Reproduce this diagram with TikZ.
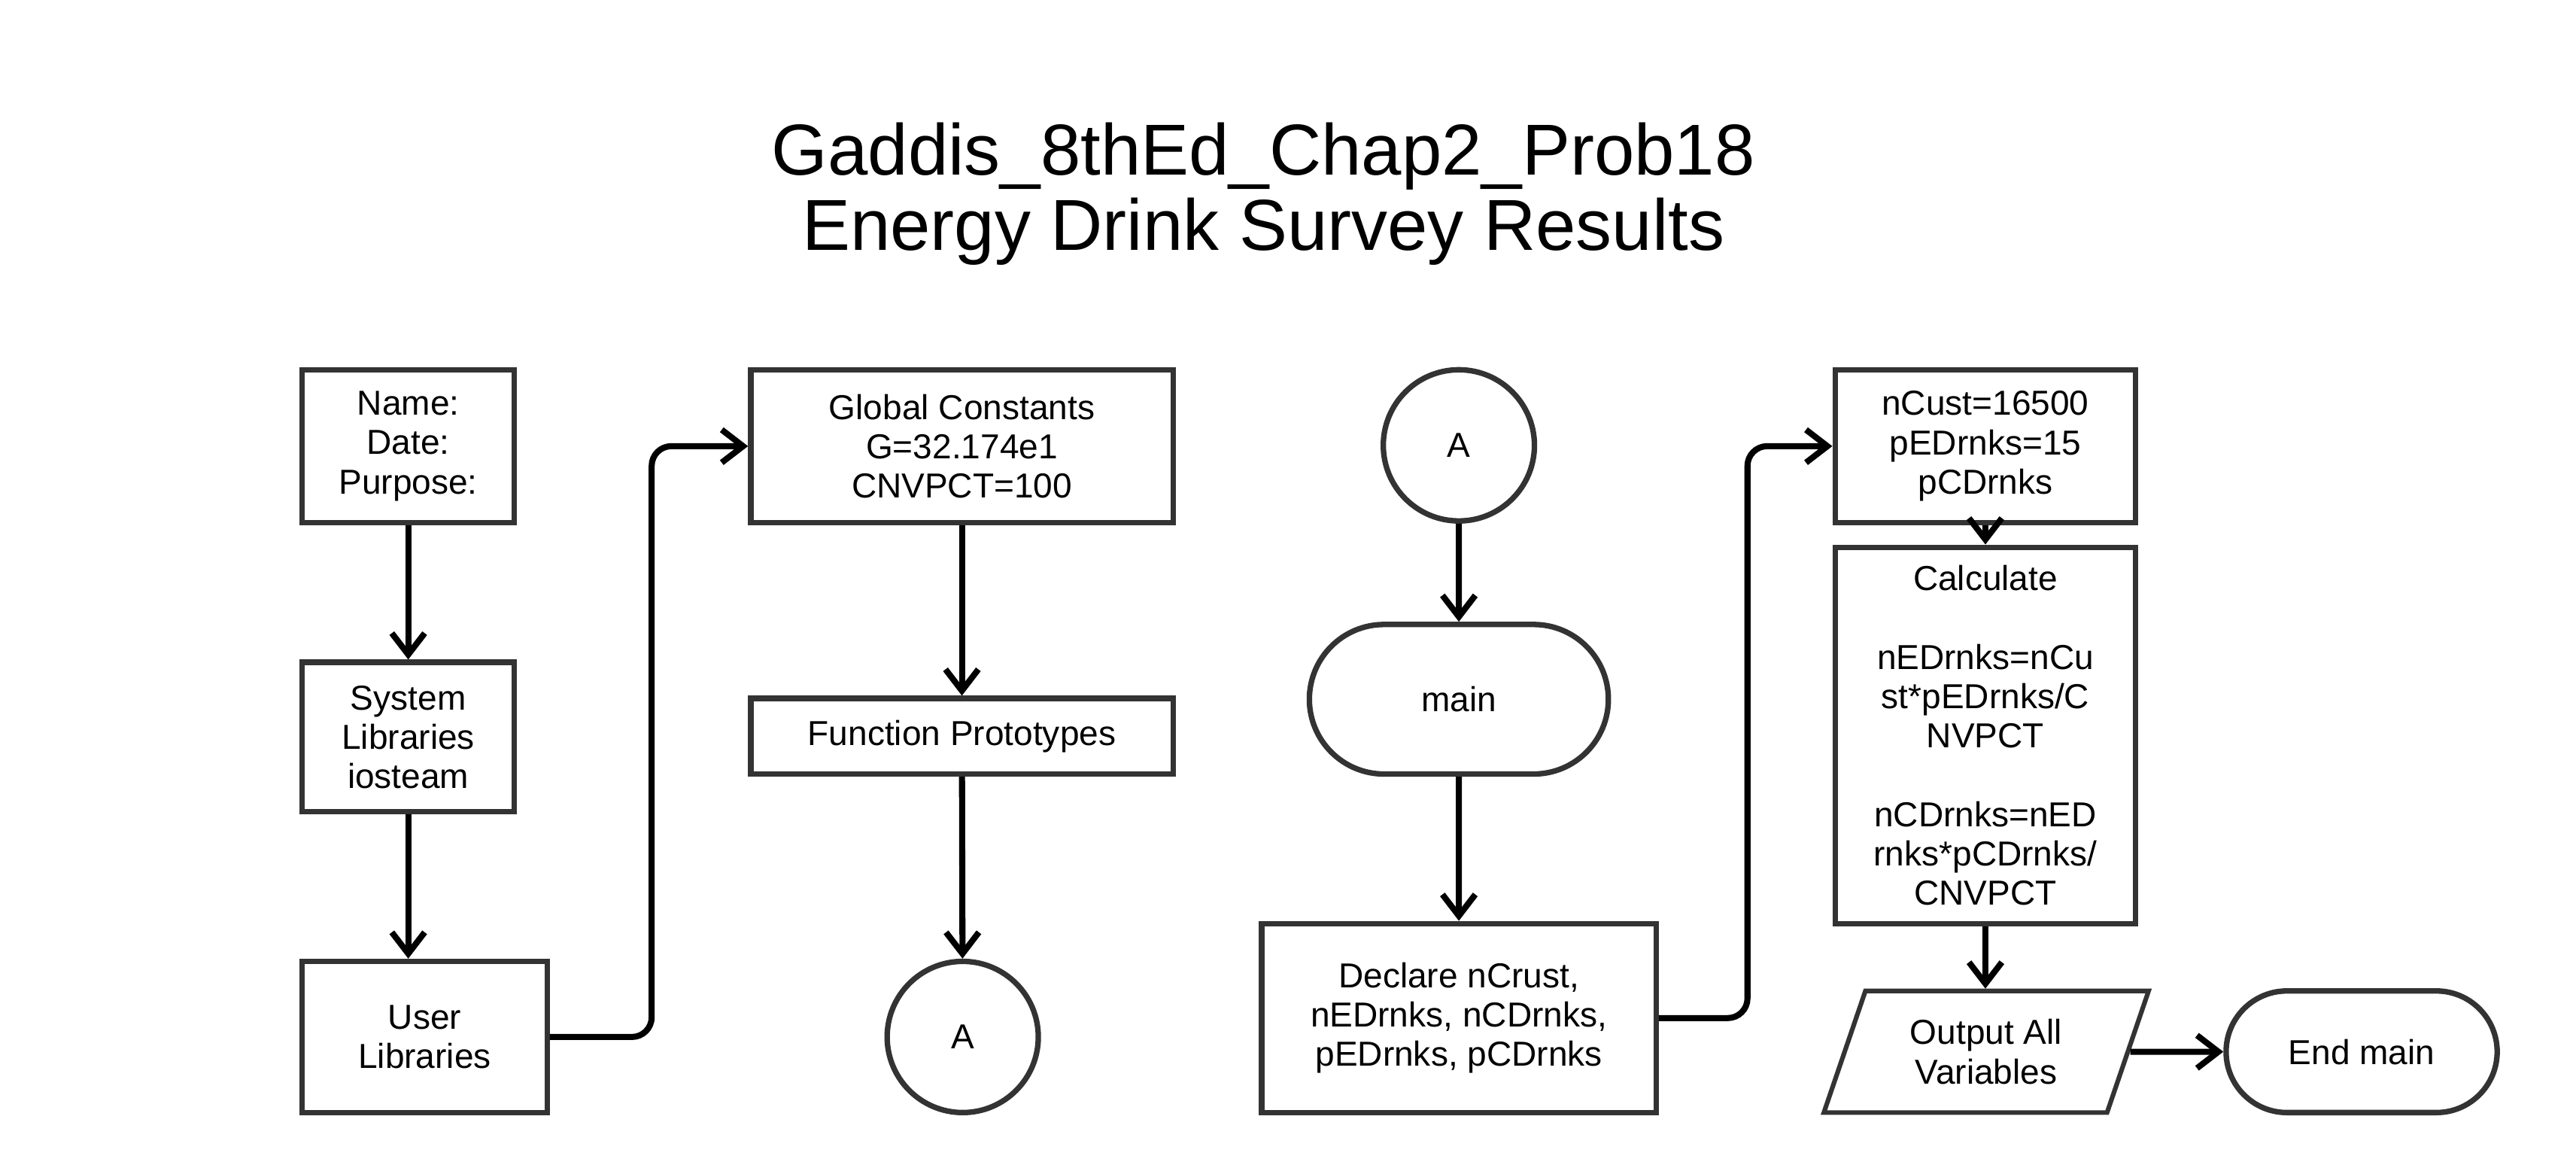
\documentclass[tikz,border=0pt]{standalone}
\usepackage{fontspec}
\setmainfont{Liberation Sans}
\usetikzlibrary{arrows.meta,shapes.geometric,shapes.misc}
\definecolor{edge}{HTML}{333333}

\begin{document}
\begin{tikzpicture}[x=0.2mm, y=-0.2mm,
  every node/.style={font=\fontsize{12}{13.6}\selectfont, align=center, inner sep=0pt},
  blk/.style={draw=edge, line width=1.9pt, rectangle},
  conn/.style={draw=edge, line width=1.9pt, circle, minimum size=18.4mm},
  term/.style={draw=edge, line width=1.9pt, rounded rectangle},
  io/.style={draw=edge, line width=1.6pt, trapezium, trapezium left angle=68,
    trapezium right angle=112, trapezium stretches=true},
  flow/.style={line width=2.1pt, -{Straight Barb[length=2.6mm,width=4mm]}, rounded corners=2.4mm}]
\useasboundingbox (0,0) rectangle (1568,714);

% title
\node[font=\fontsize{25}{26}\selectfont] (title) at (769,118)
  {Gaddis\_8thEd\_Chap2\_Prob18\\Energy Drink Survey Results};

% header column
\node[blk, minimum width=25.8mm, minimum height=18.6mm] (name) at (248.5,271.5) {Name:\\Date:\\Purpose:};
\node[blk, minimum width=25.8mm, minimum height=18.2mm] (syslib) at (248.5,448.5) {System\\Libraries\\iosteam};
\node[blk, minimum width=29.8mm, minimum height=18.4mm] (userlib) at (258.5,631) {User\\Libraries};

\node[blk, minimum width=51.4mm, minimum height=18.6mm] (global) at (585.5,271.5) {Global Constants\\G=32.174e1\\CNVPCT=100};
\node[blk, minimum width=51.4mm, minimum height=9.2mm] (proto) at (585.5,448) {Function Prototypes};
\node[conn] (conA) at (586,631) {A};

% main
\node[conn] (conB) at (888,271) {A};
\node[term, minimum width=36.4mm, minimum height=18.2mm] (main) at (888,425.5) {main};
\node[blk, minimum width=48mm, minimum height=23mm] (declare) at (888,619.5)
  {Declare nCrust,\\nEDrnks, nCDrnks,\\pEDrnks, pCDrnks};

\node[blk, minimum width=36.6mm, minimum height=18.6mm] (init) at (1208.5,271.5) {nCust=16500\\pEDrnks=15\\pCDrnks};
\node[blk, minimum width=36.6mm, minimum height=45.8mm] (calc) at (1208.5,447.5)
  {Calculate\\[13.6pt]nEDrnks=nCu\\st*pEDrnks/C\\NVPCT\\[13.6pt]nCDrnks=nED\\rnks*pCDrnks/\\CNVPCT};
\node[io, minimum width=39.6mm, minimum height=14.8mm] (output) at (1209,640) {Output All\\Variables};
\node[term, minimum width=33mm, minimum height=14.8mm] (endmain) at (1437.5,640) {End main};

% connectors
\draw[flow] (name) -- (syslib);
\draw[flow] (syslib.south) -- (syslib.south |- userlib.north);
\draw[flow] (userlib.east) -- ++(62,0) |- (global.west);
\draw[flow] (global) -- (proto);
\draw[flow] (proto) -- (conA);

\draw[flow] (conB) -- (main);
\draw[flow] (main) -- (declare);
\draw[flow] (declare.east) -- ++(54,0) |- (init.west);
\draw[flow] (init) -- (calc);
\draw[flow] (calc.south) -- (calc.south |- output.north);
\draw[flow] (output) -- (endmain);
\end{tikzpicture}
\end{document}
